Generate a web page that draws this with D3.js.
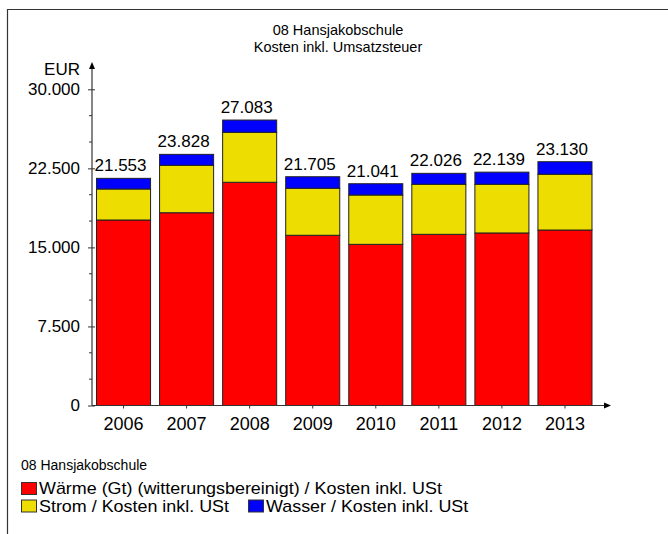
<!DOCTYPE html>
<html>
<head>
<meta charset="utf-8">
<script src="https://cdn.jsdelivr.net/npm/d3@7/dist/d3.min.js"></script>
<style>
  html, body { margin: 0; padding: 0; background: #fff; }
  svg { display: block; font-family: "Liberation Sans", Arial, sans-serif; }
</style>
</head>
<body>
<svg id="chart" width="668" height="534"></svg>
<script>
const years = ["2006", "2007", "2008", "2009", "2010", "2011", "2012", "2013"];
const waerme = [17600, 18290, 21180, 16150, 15290, 16240, 16370, 16650];
const strom  = [2940, 4500, 4740, 4460, 4680, 4750, 4620, 5290];
const wasser = [1013, 1038, 1163, 1095, 1071, 1036, 1149, 1190];
const totals = [21553, 23828, 27083, 21705, 21041, 22026, 22139, 23130];
const yTicks = [0, 7500, 15000, 22500, 30000];
const seriesNames = [
  "Wärme (Gt) (witterungsbereinigt) / Kosten inkl. USt",
  "Strom / Kosten inkl. USt",
  "Wasser / Kosten inkl. USt"
];
const seriesColors = ["#ff0000", "#eedd00", "#0000ff"];
const titleLines = ["08 Hansjakobschule", "Kosten inkl. Umsatzsteuer"];
const legendTitle = "08 Hansjakobschule";

const fmt = d3.formatLocale({decimal: ",", thousands: ".", grouping: [3], currency: ["", "€"]}).format(",d");
const FONT = "Liberation Sans, Arial, sans-serif";

const svg = d3.select("#chart");

// frame
svg.append("path").attr("d", "M7.5,534 V9.5 H668").attr("fill", "none").attr("stroke", "#333").attr("stroke-width", 1.2);

const x = d3.scaleBand().domain(years).range([92, 596.5]).paddingInner(0.143).paddingOuter(0.0715);
const y = d3.scaleLinear().domain([0, 30000]).range([405.5, 89.3]);

// title
svg.append("text").attr("x", 338).attr("y", 35).attr("text-anchor", "middle").attr("font-size", 14.5).text(titleLines[0]);
svg.append("text").attr("x", 338).attr("y", 52).attr("text-anchor", "middle").attr("font-size", 14.5).text(titleLines[1]);

// stack
const data = years.map((yr, i) => ({year: yr, w: waerme[i], s: strom[i], a: wasser[i]}));
const stack = d3.stack().keys(["w", "s", "a"])(data);

const g = svg.append("g");
stack.forEach((layer, li) => {
  g.selectAll(null).data(layer).enter().append("rect")
    .attr("x", d => x(d.data.year))
    .attr("width", x.bandwidth())
    .attr("y", d => y(d[1]))
    .attr("height", d => y(d[0]) - y(d[1]))
    .attr("fill", seriesColors[li])
    .attr("stroke", "#222")
    .attr("stroke-width", 1);
});

// value labels
svg.selectAll(null).data(years).enter().append("text")
  .attr("x", (d) => x(d) + x.bandwidth() / 2 - 3)
  .attr("y", (d, i) => y(totals[i]) - 7)
  .attr("text-anchor", "middle")
  .attr("font-size", 17)
  .text((d, i) => fmt(totals[i]));

// y axis
const yAxis = d3.axisLeft(y).tickValues(yTicks).tickFormat(fmt).tickSize(4).tickPadding(8);
const ya = svg.append("g").attr("transform", "translate(92,0)").call(yAxis);
ya.select(".domain").remove();
ya.selectAll("text").attr("font-size", 17).attr("font-family", FONT).attr("fill", "#000");
ya.selectAll("line").attr("stroke", "#333").attr("x2", -4).attr("x1", 3);
const minor = d3.range(0, 30001, 2500).filter(v => v % 7500 !== 0);
svg.append("g").selectAll("line").data(minor).enter().append("line")
  .attr("x1", 89).attr("x2", 92).attr("y1", d => y(d)).attr("y2", d => y(d))
  .attr("stroke", "#333");
svg.append("line").attr("x1", 92).attr("x2", 92).attr("y1", 405.5).attr("y2", 66).attr("stroke", "#333").attr("stroke-width", 1.2);
svg.append("path").attr("d", "M92,62 L89,69 L95,69 Z").attr("fill", "#000");
svg.append("text").attr("x", 80).attr("y", 75).attr("text-anchor", "end").attr("font-size", 17).text("EUR");

// x axis
const xAxis = d3.axisBottom(x).tickSize(3).tickPadding(9);
const xa = svg.append("g").attr("transform", "translate(0,405.5)").call(xAxis);
xa.select(".domain").remove();
xa.selectAll("text").attr("font-size", 18).attr("font-family", FONT).attr("fill", "#000");
xa.selectAll("line").attr("stroke", "#333");
svg.append("line").attr("x1", 92).attr("x2", 606).attr("y1", 405.5).attr("y2", 405.5).attr("stroke", "#333").attr("stroke-width", 1.2);
svg.append("path").attr("d", "M611,405.5 L604,402.5 L604,408.5 Z").attr("fill", "#000");

// legend
svg.append("text").attr("x", 21).attr("y", 470).attr("font-size", 14).text(legendTitle);
const legendPos = [{x: 21, y: 482}, {x: 21, y: 499.5}, {x: 248, y: 499.5}];
seriesNames.forEach((name, i) => {
  const p = legendPos[i];
  svg.append("rect").attr("x", p.x + 0.5).attr("y", p.y + 0.5).attr("width", 15).attr("height", 12)
    .attr("fill", seriesColors[i]).attr("stroke", "#333").attr("stroke-width", 1);
  svg.append("text").attr("transform", `translate(${p.x + 18},${p.y + 12}) scale(1.12,1)`)
    .attr("font-size", 16).text(name);
});
</script>
</body>
</html>
